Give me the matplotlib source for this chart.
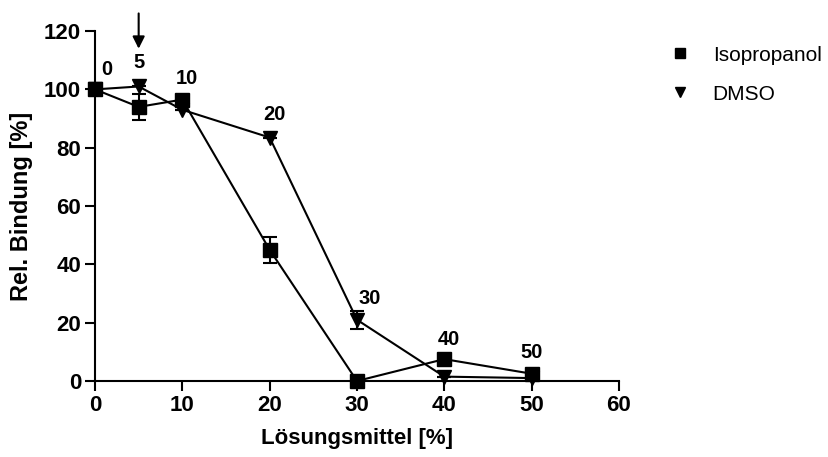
import numpy as np
import matplotlib.pyplot as plt

plt.rcParams['font.family'] = ['Liberation Sans', 'DejaVu Sans']

# daten
konz = [0, 5, 10, 20, 30, 40, 50]
iso = [100, 94, 96.5, 45, 0, 7.5, 2.5]
iso_err = [0, 4.5, 0, 4.5, 0, 0, 0]
dmso = [100, 101, 93, 83.5, 21, 1.5, 1]
dmso_err = [0, 0, 0, 0, 3, 0, 0]
etiketten = ['0', '5', '10', '20', '30', '40', '50']
etikett_pos = [(1.4, 103.5), (5, 106), (10.5, 100.5), (20.5, 88), (31.5, 25), (40.5, 11), (50, 6.5)]

fig = plt.figure(figsize=(8.29, 4.57), dpi=100)
ax = fig.add_axes([0.1146, 0.1663, 0.632, 0.7657])

ax.errorbar(konz, iso, yerr=iso_err, color='black', marker='s', markersize=9.5,
            linewidth=1.5, capsize=5, elinewidth=1.5, capthick=1.5, label='Isopropanol',
            clip_on=False, zorder=3)
ax.errorbar(konz, dmso, yerr=dmso_err, color='black', marker='v', markersize=9.5,
            linewidth=1.5, capsize=5, elinewidth=1.5, capthick=1.5, label='DMSO',
            clip_on=False, zorder=3)

for txt, (x, y) in zip(etiketten, etikett_pos):
    ax.text(x, y, txt, fontsize=14.5, fontweight='bold', ha='center', va='bottom')

# pfeil bei 5 %
ax.annotate('', xy=(5, 113), xytext=(5, 127), annotation_clip=False,
            arrowprops=dict(arrowstyle='-|>', color='black', lw=1.5, mutation_scale=18))

ax.set_xlim(0, 60)
ax.set_ylim(0, 120)
ax.set_xticks(np.arange(0, 61, 10))
ax.set_yticks(np.arange(0, 121, 20))
ax.spines['top'].set_visible(False)
ax.spines['right'].set_visible(False)
ax.spines['left'].set_linewidth(1.5)
ax.spines['bottom'].set_linewidth(1.5)
ax.tick_params(direction='out', length=7.5, width=1.5, labelsize=16, pad=2.5)
for lab in ax.get_xticklabels() + ax.get_yticklabels():
    lab.set_fontweight('bold')

ax.set_xlabel('Lösungsmittel [%]', fontsize=16, fontweight='bold', labelpad=9)
ax.set_ylabel('Rel. Bindung [%]', fontsize=17, fontweight='bold', labelpad=8)

handles, labels = ax.get_legend_handles_labels()
handles = [h[0] for h in handles]
leg = fig.legend(handles, labels, loc='upper left', bbox_to_anchor=(0.788, 0.941),
                 frameon=False, fontsize=15, handlelength=0.8, handletextpad=1.15,
                 labelspacing=0.95, markerscale=0.75)
for h in leg.legend_handles:
    h.set_linestyle('none')

fig.savefig('out.png', dpi=100)
